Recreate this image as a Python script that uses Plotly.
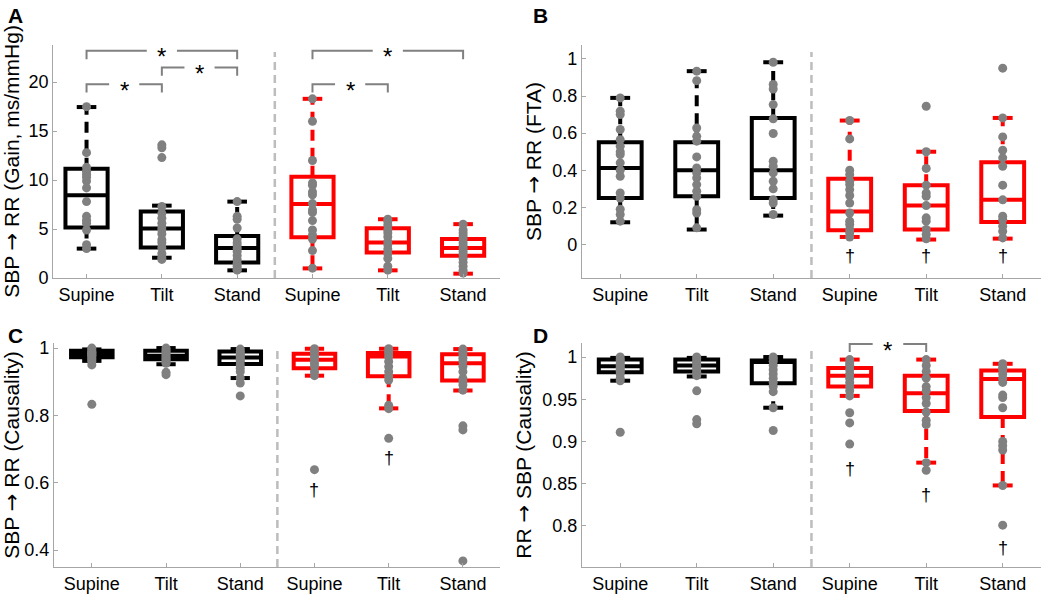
import plotly.graph_objects as go

# Category labels and positions (control = black, patients = red)
labels = ['Supine', 'Tilt', 'Stand', 'Supine', 'Tilt', 'Stand']
positions = [1, 2, 3, 4, 5, 6]
box_colors = ['black', 'black', 'black', 'red', 'red', 'red']

# Panel A: SBP -> RR gain
a_q1 = [5.15, 3.12, 1.59, 4.17, 2.61, 2.27]
a_med = [8.44, 5.05, 3.05, 7.56, 3.63, 3.05]
a_q3 = [11.15, 6.78, 4.3, 10.34, 5.08, 3.97]
a_lo = [3.0, 2.07, 0.78, 0.98, 0.78, 0.44]
a_hi = [17.46, 7.39, 7.8, 18.3, 6.0, 5.5]
a_pts = [
    [17.5, 12.8, 11.3, 10.9, 10.6, 10.3, 9.9, 9.2, 7.8, 6.3, 5.9, 5.6, 4.9, 3.4, 3.0],
    [13.6, 13.3, 12.3, 7.3, 6.6, 6.1, 5.6, 5.2, 4.9, 4.5, 3.9, 3.6, 3.1, 2.5, 2.1, 1.9],
    [7.8, 6.3, 6.0, 5.1, 4.0, 3.6, 3.3, 3.0, 2.7, 2.3, 1.9, 1.5, 1.2, 0.9, 0.8],
    [18.3, 16.0, 12.0, 9.7, 9.46, 8.8, 8.5, 7.6, 6.95, 6.7, 5.86, 4.9, 4.4, 3.97, 2.8, 1.0],
    [6.0, 5.76, 5.4, 4.9, 4.6, 4.2, 3.7, 3.4, 2.95, 2.5, 2.0, 1.2, 0.8],
    [5.5, 4.9, 4.6, 4.3, 4.0, 3.6, 3.3, 3.0, 2.7, 2.4, 2.0, 1.6, 1.2, 0.8, 0.5],
]
# brackets: (from index, to index, height)
a_brackets = [(0, 1, 19.8), (1, 2, 21.5), (0, 2, 23.2), (3, 4, 19.8), (3, 5, 23.2)]
a_daggers = []

# Panel B: SBP -> RR FTA
b_q1 = [0.251, 0.26, 0.251, 0.077, 0.081, 0.122]
b_med = [0.413, 0.40, 0.40, 0.178, 0.21, 0.241]
b_q3 = [0.551, 0.551, 0.682, 0.354, 0.32, 0.443]
b_lo = [0.12, 0.081, 0.156, 0.041, 0.027, 0.032]
b_hi = [0.79, 0.934, 0.982, 0.668, 0.5, 0.682]
b_pts = [
    [0.79, 0.718, 0.70, 0.62, 0.565, 0.53, 0.50, 0.485, 0.44, 0.40, 0.368, 0.278, 0.251, 0.19, 0.162, 0.126],
    [0.934, 0.883, 0.628, 0.583, 0.557, 0.472, 0.413, 0.386, 0.359, 0.323, 0.287, 0.26, 0.188, 0.17, 0.09],
    [0.982, 0.862, 0.838, 0.754, 0.677, 0.598, 0.449, 0.422, 0.386, 0.341, 0.30, 0.242, 0.224, 0.162],
    [0.668, 0.569, 0.40, 0.377, 0.341, 0.323, 0.296, 0.264, 0.224, 0.17, 0.126, 0.108, 0.081, 0.063, 0.041],
    [0.745, 0.50, 0.41, 0.32, 0.278, 0.26, 0.21, 0.144, 0.126, 0.081, 0.054, 0.031],
    [0.95, 0.682, 0.58, 0.508, 0.467, 0.422, 0.32, 0.241, 0.153, 0.135, 0.099, 0.072, 0.036],
]
b_brackets = []
b_daggers = [(3, -0.063), (4, -0.063), (5, -0.063)]

# Panel C: SBP -> RR causality
c_q1 = [0.973, 0.967, 0.953, 0.94, 0.916, 0.904]
c_med = [0.982, 0.977, 0.972, 0.965, 0.975, 0.955]
c_q3 = [0.992, 0.992, 0.99, 0.983, 0.985, 0.982]
c_lo = [0.962, 0.952, 0.911, 0.918, 0.821, 0.874]
c_hi = [0.996, 1.0, 0.997, 0.998, 0.998, 0.997]
c_pts = [
    [1.0, 0.995, 0.99, 0.987, 0.985, 0.983, 0.98, 0.978, 0.975, 0.97, 0.965, 0.96, 0.95, 0.833],
    [1.0, 0.995, 0.99, 0.985, 0.98, 0.975, 0.97, 0.965, 0.96, 0.955, 0.928, 0.921],
    [0.997, 0.99, 0.985, 0.98, 0.975, 0.97, 0.965, 0.96, 0.95, 0.94, 0.93, 0.911, 0.896, 0.858],
    [0.998, 0.99, 0.985, 0.975, 0.965, 0.955, 0.945, 0.93, 0.918, 0.639],
    [0.998, 0.99, 0.985, 0.975, 0.96, 0.945, 0.93, 0.916, 0.905, 0.83, 0.82, 0.732],
    [0.997, 0.99, 0.98, 0.97, 0.96, 0.945, 0.93, 0.91, 0.9, 0.89, 0.875, 0.769, 0.757, 0.368],
]
c_brackets = []
c_daggers = [(3, 0.578), (4, 0.673)]

# Panel D: RR -> SBP causality
d_q1 = [0.982, 0.983, 0.969, 0.965, 0.936, 0.929]
d_med = [0.989, 0.99, 0.994, 0.978, 0.957, 0.974]
d_q3 = [0.997, 0.997, 0.996, 0.987, 0.978, 0.984]
d_lo = [0.972, 0.977, 0.94, 0.954, 0.875, 0.848]
d_hi = [0.999, 0.999, 1.0, 0.997, 0.997, 0.992]
d_pts = [
    [1.0, 0.997, 0.995, 0.992, 0.99, 0.988, 0.985, 0.983, 0.98, 0.975, 0.972, 0.911],
    [1.0, 0.998, 0.995, 0.993, 0.99, 0.988, 0.985, 0.982, 0.978, 0.96, 0.926, 0.921],
    [1.0, 0.998, 0.995, 0.99, 0.985, 0.98, 0.975, 0.97, 0.965, 0.959, 0.94, 0.913],
    [0.997, 0.993, 0.99, 0.985, 0.98, 0.975, 0.97, 0.965, 0.96, 0.954, 0.934, 0.922, 0.897],
    [0.997, 0.99, 0.983, 0.975, 0.965, 0.96, 0.952, 0.945, 0.935, 0.925, 0.92, 0.875, 0.866],
    [0.992, 0.988, 0.985, 0.98, 0.975, 0.97, 0.955, 0.952, 0.94, 0.9, 0.895, 0.89, 0.848, 0.801],
]
d_brackets = [(3, 4, 1.0154)]
d_daggers = [(3, 0.868), (4, 0.837), (5, 0.774)]

FONT = 'Liberation Sans, Arial, sans-serif'
GRAY = '#808080'
ARROW = '<span style="font-family:DejaVu Sans">→</span>'

fig = go.Figure()

panels = [
    dict(name='A', stats=(a_q1, a_med, a_q3, a_lo, a_hi), pts=a_pts, br=a_brackets, dag=a_daggers,
         xd=[0.0504, 0.4753], yd=[0.5328, 0.9244], xr=[0.555, 6.49], yr=[0, 23.8],
         yt=[0, 5, 10, 15, 20], ytt=['0', '5', '10', '15', '20'], drop=0.85,
         title='SBP %s RR (Gain, ms/mmHg)' % ARROW, lab=(0.006, 0.997)),
    dict(name='B', stats=(b_q1, b_med, b_q3, b_lo, b_hi), pts=b_pts, br=b_brackets, dag=b_daggers,
         xd=[0.5532, 0.9895], yd=[0.5328, 0.9244], xr=[0.5, 6.5], yr=[-0.18, 1.075],
         yt=[0, 0.2, 0.4, 0.6, 0.8, 1], ytt=['0', '0.2', '0.4', '0.6', '0.8', '1'], drop=0.04,
         title='SBP %s RR (FTA)' % ARROW, lab=(0.505, 0.997)),
    dict(name='C', stats=(c_q1, c_med, c_q3, c_lo, c_hi), pts=c_pts, br=c_brackets, dag=c_daggers,
         xd=[0.0513, 0.4753], yd=[0.0471, 0.4235], xr=[0.49, 6.5], yr=[0.35, 1.015],
         yt=[0.4, 0.6, 0.8, 1], ytt=['0.4', '0.6', '0.8', '1'], drop=0.02,
         title='SBP %s RR (Causality)' % ARROW, lab=(0.006, 0.458)),
    dict(name='D', stats=(d_q1, d_med, d_q3, d_lo, d_hi), pts=d_pts, br=d_brackets, dag=d_daggers,
         xd=[0.5532, 0.9895], yd=[0.0471, 0.4235], xr=[0.5, 6.5], yr=[0.7515, 1.0166],
         yt=[0.8, 0.85, 0.9, 0.95, 1], ytt=['0.8', '0.85', '0.9', '0.95', '1'], drop=0.0095,
         title='RR %s SBP (Causality)' % ARROW, lab=(0.505, 0.458)),
]

BOX_W = 0.56
CAP_HALF = 0.13

for k, p in enumerate(panels):
    xa = 'x' if k == 0 else 'x%d' % (k + 1)
    ya = 'y' if k == 0 else 'y%d' % (k + 1)
    q1, med, q3, lo, hi = p['stats']

    # dashed separator between control and patient groups
    sep = (positions[2] + positions[3]) / 2
    fig.add_shape(type='line', xref=xa, yref=ya + ' domain', x0=sep, x1=sep, y0=0, y1=0.97,
                  line=dict(color='#bdbdbd', width=2.5, dash='8px,5px'))

    for col in ['black', 'red']:
        idx = [i for i in range(6) if box_colors[i] == col]
        # whiskers (dashed)
        wx, wy, cx, cy = [], [], [], []
        for i in idx:
            x = positions[i]
            if hi[i] > q3[i]:
                wx += [x, x, None]
                wy += [q3[i], hi[i], None]
            if lo[i] < q1[i]:
                wx += [x, x, None]
                wy += [q1[i], lo[i], None]
            cx += [x - CAP_HALF, x + CAP_HALF, None, x - CAP_HALF, x + CAP_HALF, None]
            cy += [hi[i], hi[i], None, lo[i], lo[i], None]
        fig.add_trace(go.Scatter(x=wx, y=wy, mode='lines', xaxis=xa, yaxis=ya,
                                 line=dict(color=col, width=4, dash='11px,7px'),
                                 showlegend=False, hoverinfo='skip'))
        fig.add_trace(go.Scatter(x=cx, y=cy, mode='lines', xaxis=xa, yaxis=ya,
                                 line=dict(color=col, width=4),
                                 showlegend=False, hoverinfo='skip'))
        # boxes from precomputed quartiles
        fig.add_trace(go.Box(x=[positions[i] for i in idx],
                             q1=[q1[i] for i in idx], median=[med[i] for i in idx],
                             q3=[q3[i] for i in idx],
                             lowerfence=[q1[i] for i in idx], upperfence=[q3[i] for i in idx],
                             width=BOX_W, whiskerwidth=0, boxpoints=False,
                             line=dict(color=col, width=4), fillcolor='rgba(0,0,0,0)',
                             xaxis=xa, yaxis=ya, showlegend=False))

    # individual subject values
    px, py = [], []
    for i in range(6):
        px += [positions[i]] * len(p['pts'][i])
        py += p['pts'][i]
    fig.add_trace(go.Scatter(x=px, y=py, mode='markers', xaxis=xa, yaxis=ya,
                             marker=dict(color=GRAY, size=9), showlegend=False))

    # significance brackets
    for (i, j, h) in p['br']:
        xi, xj = positions[i], positions[j]
        mid = (xi + xj) / 2
        gap = 0.2
        fig.add_trace(go.Scatter(
            x=[xi, xi, mid - gap, None, mid + gap, xj, xj],
            y=[h - p['drop'], h, h, None, h, h, h - p['drop']],
            mode='lines', xaxis=xa, yaxis=ya, line=dict(color=GRAY, width=2),
            showlegend=False, hoverinfo='skip'))
        fig.add_annotation(x=mid, y=h, xref=xa, yref=ya, text='*', showarrow=False,
                           font=dict(size=24, color='black', family=FONT), yshift=-6)

    for (i, h) in p['dag']:
        fig.add_annotation(x=positions[i], y=h, xref=xa, yref=ya, text='†', showarrow=False,
                           font=dict(size=18, color='black', family=FONT))

    axis_common = dict(showline=True, linecolor='#a6a6a6', linewidth=1, showgrid=False,
                       zeroline=False, ticks='inside', ticklen=4, tickcolor='#a6a6a6',
                       automargin=False,
                       tickfont=dict(size=18, color='black', family=FONT))
    fig.layout[('xaxis' if k == 0 else 'xaxis%d' % (k + 1))] = dict(
        domain=p['xd'], range=p['xr'], anchor=ya, tickvals=positions, ticktext=labels,
        **axis_common)
    fig.layout[('yaxis' if k == 0 else 'yaxis%d' % (k + 1))] = dict(
        domain=p['yd'], range=p['yr'], anchor=xa, tickvals=p['yt'], ticktext=p['ytt'],
        title=dict(text=p['title'], font=dict(size=21, color='black', family=FONT), standoff=4),
        **axis_common)

    fig.add_annotation(x=p['lab'][0], y=p['lab'][1], xref='paper', yref='paper',
                       text='<b>%s</b>' % p['name'], showarrow=False, xanchor='left',
                       yanchor='top', font=dict(size=21, color='black', family=FONT))

fig.update_layout(width=1052, height=595, margin=dict(l=0, r=0, t=0, b=0),
                  plot_bgcolor='white', paper_bgcolor='white',
                  font=dict(family=FONT))

# drop the default page margin so the figure sits at the top-left corner
fig.write_html('out.html', config={'displayModeBar': False},
               post_script="document.body.style.margin='0';")
